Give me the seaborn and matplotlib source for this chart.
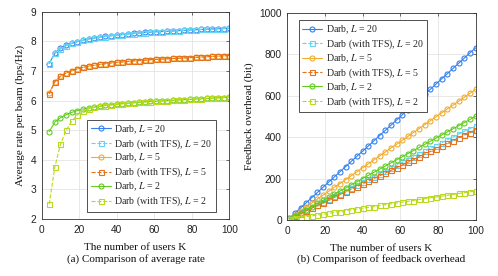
import matplotlib
matplotlib.use("Agg")
import matplotlib.pyplot as plt
import seaborn as sns

sns.set_theme(style="whitegrid")
plt.rcParams["mathtext.fontset"] = "stix"

# ---- data --------------------------------------------------------------- #
K_rate = [4, 7, 10, 13, 16, 19, 22, 25, 28, 31, 34, 37, 40, 43, 46, 49, 52,
          55, 58, 61, 64, 67, 70, 73, 76, 79, 82, 85, 88, 91, 94, 97, 100]
rate_darb_20 = [7.25, 7.60, 7.76, 7.86, 7.93, 7.99, 8.04, 8.08, 8.11, 8.14,
                8.17, 8.19, 8.21, 8.23, 8.25, 8.27, 8.28, 8.30, 8.31, 8.32,
                8.33, 8.34, 8.35, 8.36, 8.37, 8.38, 8.39, 8.40, 8.41, 8.42,
                8.43, 8.43, 8.44]
rate_tfs_20 = [7.24, 7.59, 7.75, 7.85, 7.93, 7.99, 8.03, 8.08, 8.11, 8.14,
               8.16, 8.19, 8.21, 8.23, 8.25, 8.26, 8.28, 8.29, 8.31, 8.32,
               8.33, 8.34, 8.35, 8.36, 8.37, 8.38, 8.39, 8.40, 8.41, 8.41,
               8.42, 8.43, 8.44]
rate_darb_5 = [6.25, 6.64, 6.82, 6.93, 7.01, 7.07, 7.12, 7.16, 7.19, 7.22,
               7.25, 7.27, 7.29, 7.31, 7.32, 7.34, 7.35, 7.37, 7.38, 7.39,
               7.40, 7.41, 7.42, 7.43, 7.44, 7.45, 7.46, 7.47, 7.48, 7.49,
               7.50, 7.51, 7.52]
rate_tfs_5 = [6.22, 6.63, 6.82, 6.93, 7.00, 7.07, 7.12, 7.16, 7.19, 7.22,
              7.24, 7.27, 7.29, 7.30, 7.32, 7.34, 7.35, 7.36, 7.38, 7.39,
              7.40, 7.41, 7.42, 7.43, 7.44, 7.45, 7.46, 7.47, 7.48, 7.49,
              7.50, 7.51, 7.52]
rate_darb_2 = [4.95, 5.27, 5.42, 5.52, 5.60, 5.66, 5.71, 5.75, 5.78, 5.81,
               5.84, 5.86, 5.88, 5.90, 5.91, 5.93, 5.94, 5.96, 5.97, 5.98,
               5.99, 6.00, 6.01, 6.02, 6.03, 6.04, 6.05, 6.06, 6.07, 6.08,
               6.09, 6.10, 6.12]
rate_tfs_2 = [2.50, 3.75, 4.52, 4.99, 5.30, 5.52, 5.65, 5.72, 5.77, 5.80,
              5.83, 5.85, 5.87, 5.89, 5.91, 5.92, 5.94, 5.95, 5.96, 5.97,
              5.99, 6.00, 6.01, 6.02, 6.03, 6.04, 6.05, 6.06, 6.07, 6.08,
              6.09, 6.10, 6.11]

K_fb = [1, 4, 7, 10, 13, 16, 19, 22, 25, 28, 31, 34, 37, 40, 43, 46, 49, 52,
        55, 58, 61, 64, 67, 70, 73, 76, 79, 82, 85, 88, 91, 94, 97, 100]
fb_darb_20 = [8, 33, 58, 83, 108, 133, 158, 183, 208, 233, 258, 283, 308, 332,
              357, 382, 407, 432, 457, 482, 507, 532, 557, 581, 606, 631, 656,
              681, 706, 731, 756, 781, 806, 830]
fb_tfs_20 = [5, 18, 32, 46, 59, 73, 86, 100, 114, 127, 141, 155, 168, 182, 196,
             209, 223, 237, 250, 264, 278, 291, 305, 319, 332, 346, 359, 373,
             387, 400, 414, 428, 441, 455]
fb_darb_5 = [6, 25, 44, 63, 82, 101, 120, 139, 158, 176, 195, 214, 233, 252,
             271, 290, 309, 328, 347, 365, 384, 403, 422, 441, 460, 479, 498,
             517, 536, 554, 573, 592, 611, 630]
fb_tfs_5 = [4, 17, 30, 44, 57, 70, 83, 96, 109, 122, 135, 148, 161, 174, 187,
            200, 213, 226, 239, 252, 265, 278, 291, 305, 318, 331, 344, 357,
            370, 383, 396, 409, 422, 435]
fb_darb_2 = [5, 20, 35, 50, 65, 80, 95, 110, 125, 140, 155, 170, 185, 200, 215,
             230, 245, 260, 275, 290, 305, 320, 335, 350, 365, 380, 395, 410,
             425, 440, 455, 470, 485, 500]
fb_tfs_2 = [3, 8, 12, 16, 20, 24, 28, 32, 37, 41, 45, 49, 53, 57, 61, 65, 70,
            74, 78, 82, 86, 90, 94, 99, 103, 107, 111, 115, 119, 123, 128, 132,
            136, 140]

labels = ["Darb, $L$ = 20", "Darb (with TFS), $L$ = 20",
          "Darb, $L$ = 5", "Darb (with TFS), $L$ = 5",
          "Darb, $L$ = 2", "Darb (with TFS), $L$ = 2"]
colors = ["#3580EE", "#62D4F4", "#F2AC2E", "#E8731E", "#62CC20", "#B9DA1C"]
markers = ["o", "s", "o", "s", "o", "s"]
styles = ["-", "--", "-", "--", "-", "--"]

SERIF = ["Liberation Serif", "DejaVu Serif"]
SANS = ["Liberation Sans", "DejaVu Sans"]

fig = plt.figure(figsize=(4.98, 2.76), dpi=100)
ax1 = fig.add_axes([0.0837, 0.2065, 0.3767, 0.7511])
ax2 = fig.add_axes([0.577, 0.2029, 0.378, 0.7511])


def draw(ax, x, series):
    for y, lab, c, m, ls in zip(series, labels, colors, markers, styles):
        sns.lineplot(x=x, y=y, ax=ax, color=c, marker=m, linestyle=ls,
                     markersize=3.6, markerfacecolor="none",
                     markeredgecolor=c, markeredgewidth=0.8, linewidth=0.8,
                     label=lab)


def style(ax, ylim, yticks, ylabel):
    ax.set_xlim(0, 100)
    ax.set_xticks([0, 20, 40, 60, 80, 100])
    ax.set_ylim(*ylim)
    ax.set_yticks(yticks)
    ax.grid(True, color="#e4e4e4", linewidth=0.6)
    for s in ax.spines.values():
        s.set_color("#333333")
        s.set_linewidth(0.6)
    ax.tick_params(direction="in", length=2.5, width=0.5, color="#333333",
                   top=True, right=True, labelsize=7.3, pad=4,
                   labelcolor="#222222")
    for t in ax.get_xticklabels() + ax.get_yticklabels():
        t.set_family(SANS)
    ax.set_xlabel("The number of users K", family=SERIF, fontsize=8,
                  labelpad=6, color="#111111")
    ax.set_ylabel(ylabel, family=SERIF, fontsize=8, labelpad=4,
                  color="#111111")


draw(ax1, K_rate, [rate_darb_20, rate_tfs_20, rate_darb_5, rate_tfs_5,
                   rate_darb_2, rate_tfs_2])
draw(ax2, K_fb, [fb_darb_20, fb_tfs_20, fb_darb_5, fb_tfs_5,
                 fb_darb_2, fb_tfs_2])

style(ax1, (2, 9), range(2, 10), "Average rate per beam (bps/Hz)")
style(ax2, (0, 1000), range(0, 1001, 200), "Feedback overhead (bit)")

leg_kw = dict(prop={"family": SERIF, "size": 7.1}, frameon=True,
              fancybox=False, edgecolor="#333333", handlelength=2.0,
              handletextpad=0.35, labelspacing=0.15, borderpad=0.35,
              borderaxespad=0)
l1 = ax1.legend(loc="lower right", bbox_to_anchor=(0.928, 0.035), **leg_kw)
l2 = ax2.legend(loc="upper left", bbox_to_anchor=(0.062, 0.965), **leg_kw)
for lg in (l1, l2):
    lg.get_frame().set_linewidth(0.6)
    lg.get_frame().set_facecolor("white")
    lg.get_frame().set_alpha(1)

fig.text(0.2720, 0.05, "(a) Comparison of average rate", ha="center",
         family=SERIF, fontsize=8, color="#111111")
fig.text(0.766, 0.05, "(b) Comparison of feedback overhead", ha="center",
         family=SERIF, fontsize=8, color="#111111")

fig.savefig("out.png", dpi=100)
